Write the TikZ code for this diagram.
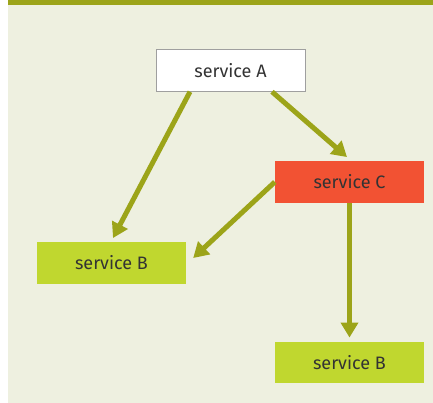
\documentclass[tikz,border=0pt]{standalone}
\usepackage{fontspec}
\setmainfont{Fira Sans}
\usetikzlibrary{arrows.meta,positioning}
\definecolor{panel}{HTML}{EEF0E0}
\definecolor{olive}{HTML}{9CA419}
\definecolor{svcred}{HTML}{F25233}
\definecolor{svclime}{HTML}{C0D72F}
\definecolor{txt}{HTML}{333333}
\tikzset{
  svc/.style={minimum width=149pt, minimum height=41.5pt, inner sep=0pt,
    font=\fontsize{18}{21}\selectfont, text=txt},
  arr/.style={draw=olive, line width=5pt,
    -{Triangle[length=15pt,width=17pt]}},
}
\begin{document}
\begin{tikzpicture}[x=1pt,y=1pt]
  \useasboundingbox (0,0) rectangle (433,403);
  % backdrop and header band
  \fill[panel] (8,0) rectangle (433,403);
  \fill[olive] (8,398) rectangle (433,403);
  % services
  \node[svc, fill=white, draw=gray!75, line width=1pt] (A) at (230.5,332.5) {service A};
  \node[svc, fill=svcred] (C) at (349.5,221) {service C};
  \node[svc, fill=svclime] (B1) at (111.5,140) {service B};
  \node[svc, fill=svclime] (B2) at (349.5,40.5) {service B};
  % calls
  \draw[arr] ([xshift=-40.5pt]A.south) -- ([xshift=1.5pt,yshift=4pt]B1.north);
  \draw[arr] ([xshift=41.5pt]A.south) -- ([xshift=-2.5pt,yshift=4pt]C.north);
  \draw[arr] (C.west) -- ([xshift=7pt,yshift=5pt]B1.east);
  \draw[arr] (C.south) -- ([yshift=4pt]B2.north);
\end{tikzpicture}
\end{document}
